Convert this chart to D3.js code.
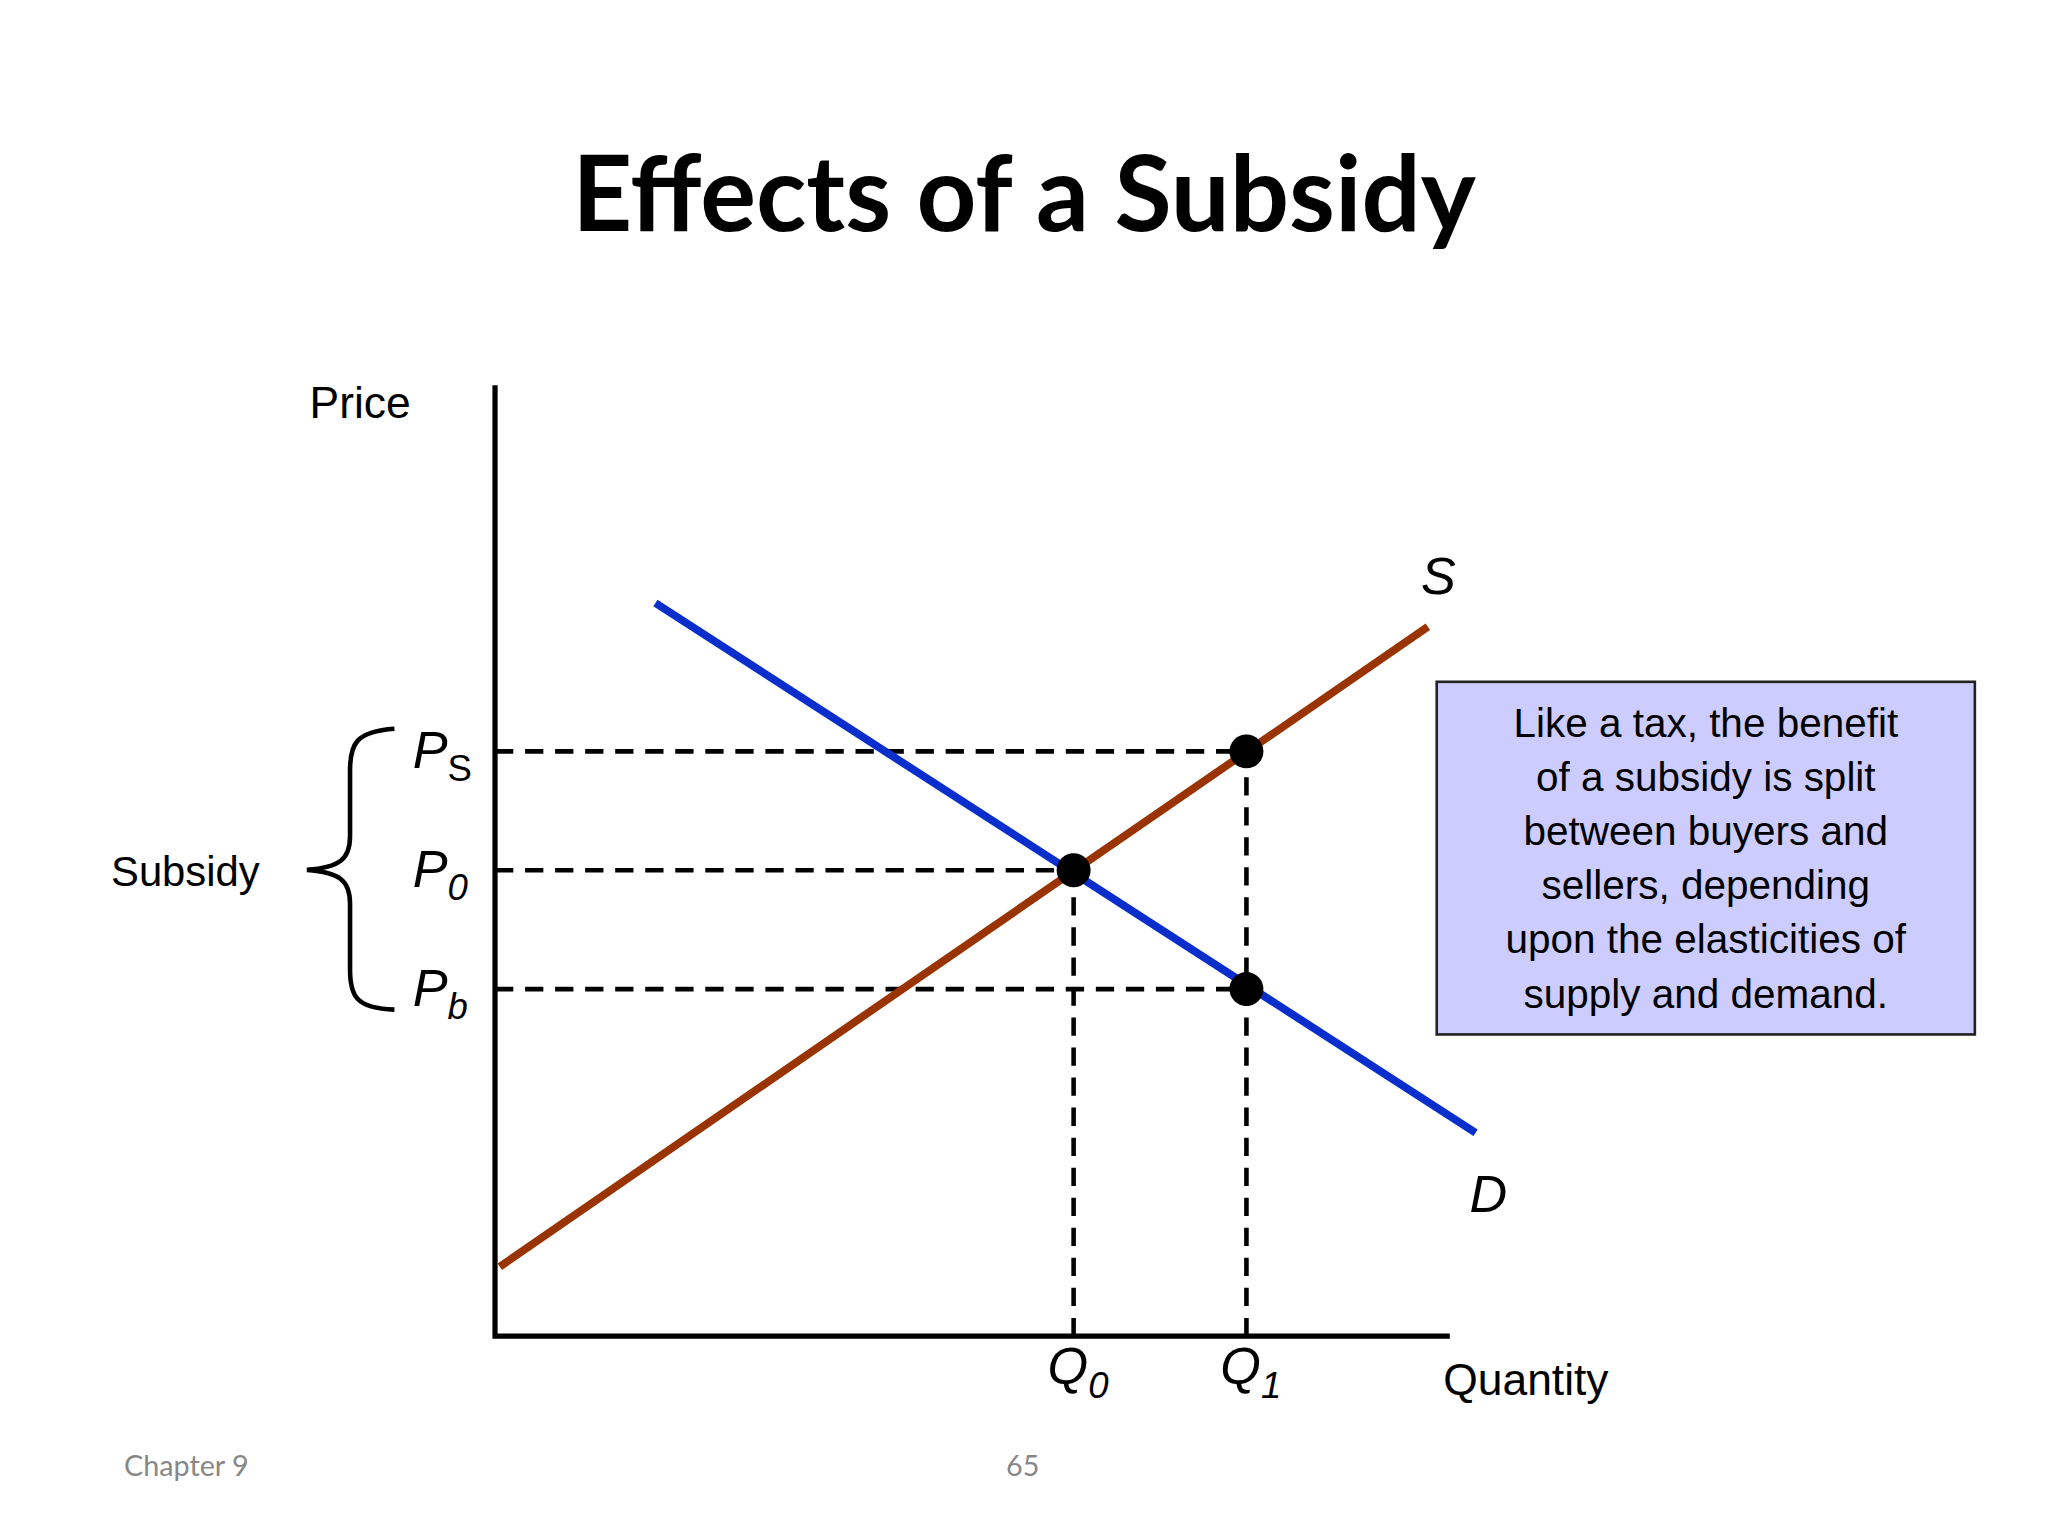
<!DOCTYPE html><html><head><meta charset="utf-8"><script src="https://cdn.jsdelivr.net/npm/d3@7"></script>
<style>body{margin:0;background:#fff}</style></head><body><script>
const supplyPts=[[0.5,7.3],[97.7,74.6]];
const demandPts=[[16.8,77.1],[102.7,21.4]];
const quantities=[{name:"Q",sub:"0",q:60.6},{name:"Q",sub:"1",q:78.7}];
const prices=[{name:"P",sub:"S",p:61.5,q:78.7},{name:"P",sub:"0",p:49.0,q:60.6},{name:"P",sub:"b",p:36.5,q:78.7}];
const points=[[60.6,49.0],[78.7,61.5],[78.7,36.5]];
const noteLines=["Like a tax, the benefit","of a subsidy is split","between buyers and","sellers, depending","upon the elasticities of","supply and demand."];

const svg=d3.select("body").append("svg").attr("width",2048).attr("height",1536).attr("viewBox","0 0 1568 1176");
const x=d3.scaleLinear().domain([0,100]).range([379,1110]);
const y=d3.scaleLinear().domain([0,100]).range([1023,295]);
const F="Liberation Sans, Arial, sans-serif";
svg.append("text").attr("x",784).attr("y",177).attr("text-anchor","middle").attr("font-family","Lato, 'Open Sans', sans-serif").attr("font-weight","bold").attr("font-size",80).text("Effects of a Subsidy");
// dashed lines
prices.forEach(d=>svg.append("line").attr("x1",x(0)).attr("x2",x(d.q)).attr("y1",y(d.p)).attr("y2",y(d.p)).attr("stroke","#000").attr("stroke-width",3.5).attr("stroke-dasharray","14,9"));
quantities.forEach((d,i)=>svg.append("line").attr("x1",x(d.q)).attr("x2",x(d.q)).attr("y1",y(0)).attr("y2",y(i==0?49.0:61.5)).attr("stroke","#000").attr("stroke-width",3.5).attr("stroke-dasharray","14,9"));
const line=d3.line().x(d=>x(d[0])).y(d=>y(d[1]));
svg.append("path").attr("d",line(demandPts)).attr("stroke","#0a2ecc").attr("stroke-width",6).attr("fill","none");
svg.append("path").attr("d",line(supplyPts)).attr("stroke","#993300").attr("stroke-width",6).attr("fill","none");
// axes
svg.append("path").attr("d",`M${x(0)},${y(100)}V${y(0)}H${x(100)}`).attr("stroke","#000").attr("stroke-width",4).attr("fill","none");
points.forEach(d=>svg.append("circle").attr("cx",x(d[0])).attr("cy",y(d[1])).attr("r",13).attr("fill","#000"));
svg.append("text").attr("x",237).attr("y",320).attr("font-family",F).attr("font-size",34).text("Price");
svg.append("text").attr("x",1105).attr("y",1068).attr("font-family",F).attr("font-size",34).text("Quantity");
svg.append("text").attr("x",1088).attr("y",455).attr("font-family",F).attr("font-style","italic").attr("font-size",40).text("S");
svg.append("text").attr("x",1125).attr("y",928).attr("font-family",F).attr("font-style","italic").attr("font-size",40).text("D");
prices.forEach(d=>{const t=svg.append("text").attr("x",316).attr("y",y(d.p)+13).attr("font-family",F).attr("font-style","italic").attr("font-size",40);
 t.append("tspan").text(d.name);t.append("tspan").attr("font-size",28).attr("dy",10).attr("font-style",d.sub=="S"?"normal":"italic").text(d.sub);});
quantities.forEach(d=>{const t=svg.append("text").attr("x",x(d.q)-20).attr("y",1060).attr("font-family",F).attr("font-style","italic").attr("font-size",40);
 t.append("tspan").text(d.name);t.append("tspan").attr("font-size",28).attr("dy",10).text(d.sub);});
// brace
svg.append("path").attr("d","M302,558 C272,560 268,570 268,590 L268,640 C268,658 260,664 235,666 C260,668 268,674 268,692 L268,742 C268,762 272,772 302,773").attr("stroke","#000").attr("stroke-width",3.5).attr("fill","none");
svg.append("text").attr("x",85).attr("y",678).attr("font-family",F).attr("font-size",32).text("Subsidy");
// note box
svg.append("rect").attr("x",1100).attr("y",522).attr("width",412).attr("height",270).attr("fill","#ccccff").attr("stroke","#222").attr("stroke-width",2);
noteLines.forEach((l,i)=>svg.append("text").attr("x",1306).attr("y",564+i*41.5).attr("text-anchor","middle").attr("font-family",F).attr("font-size",31).text(l));
svg.append("text").attr("x",95).attr("y",1130).attr("font-family","Lato, sans-serif").attr("font-size",22).attr("fill","#888").text("Chapter 9");
svg.append("text").attr("x",783).attr("y",1130).attr("text-anchor","middle").attr("font-family","Lato, sans-serif").attr("font-size",22).attr("fill","#888").text("65");
</script></body></html>
